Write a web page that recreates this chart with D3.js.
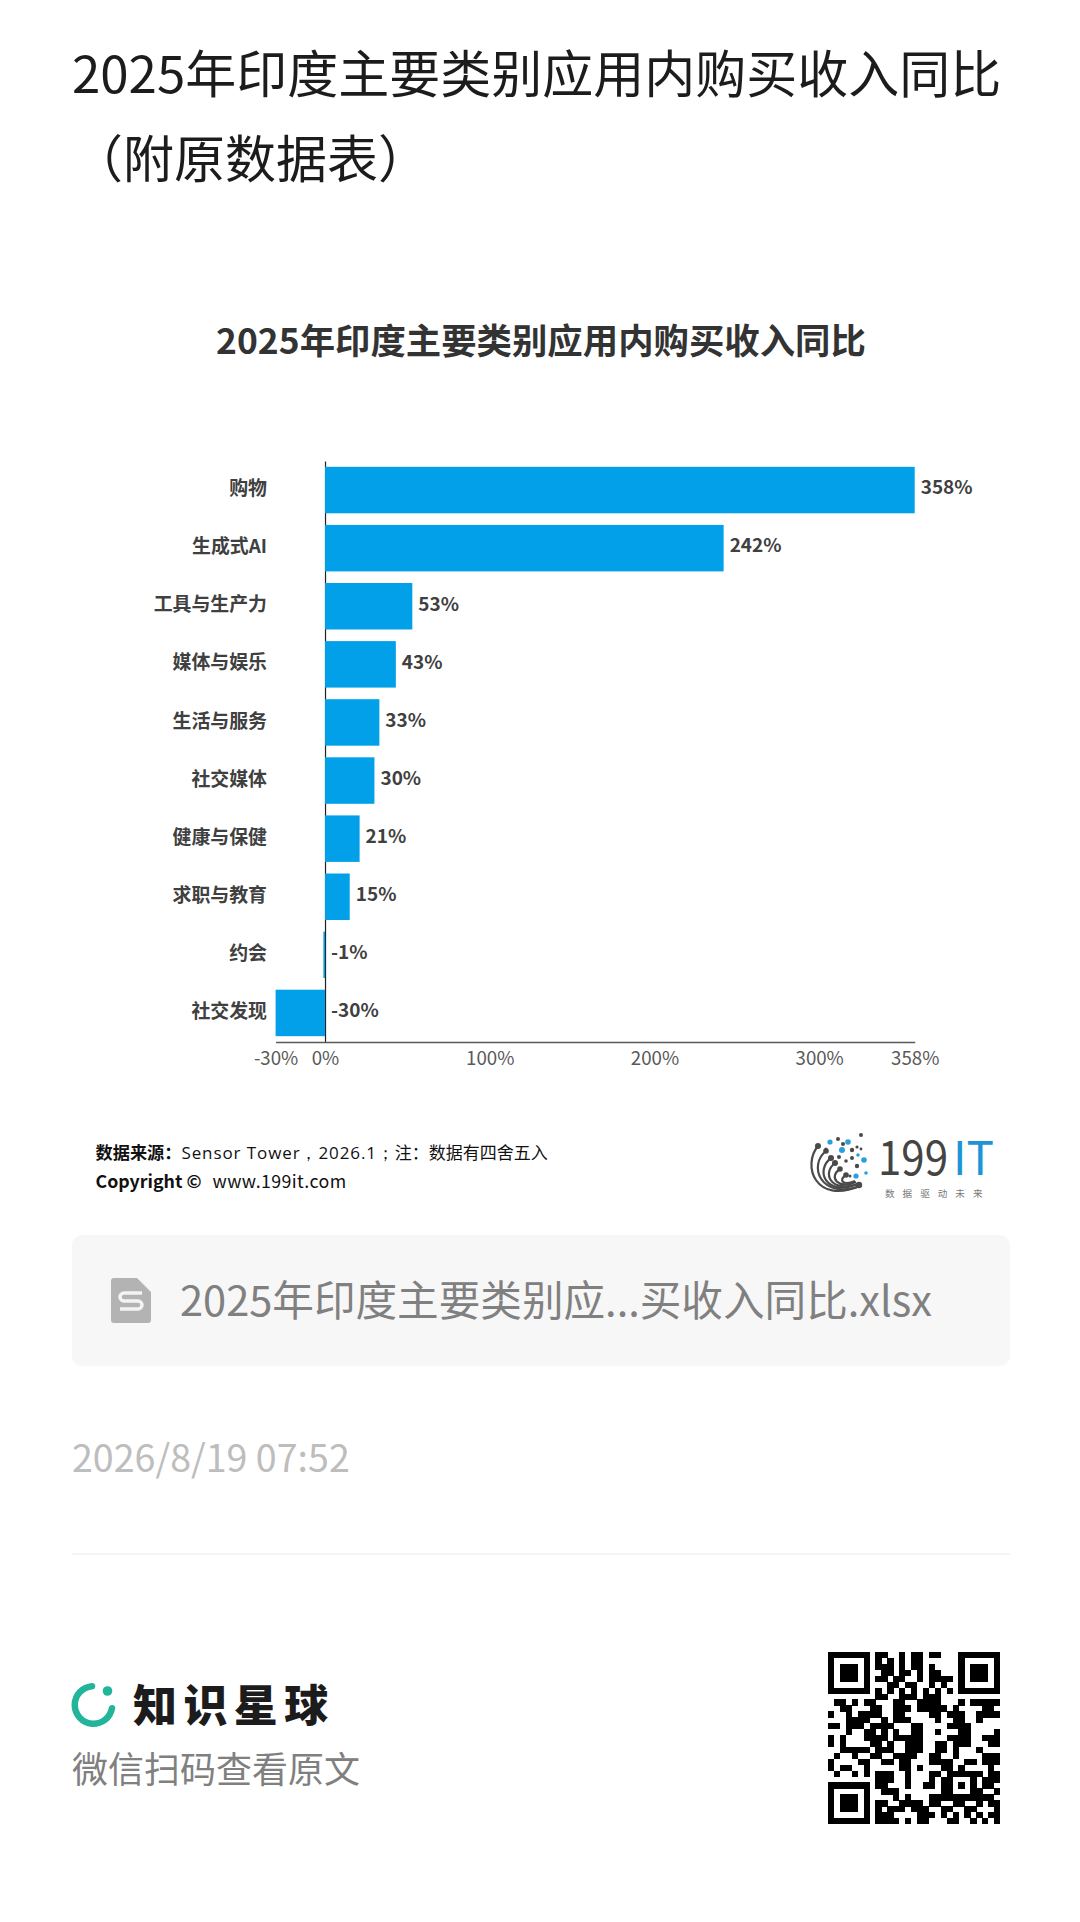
<!DOCTYPE html>
<html lang="zh"><head><meta charset="utf-8">
<script src="https://cdn.jsdelivr.net/npm/d3@7"></script>
<style>
html,body{margin:0;padding:0;background:#fff}
svg{display:block}
text{font-family:"Noto Sans CJK SC","Noto Sans",sans-serif}
</style></head><body><div id="chart"></div>
<script>
const pageTitleLines = ["2025年印度主要类别应用内购买收入同比", "（附原数据表）"];
const chartTitle = "2025年印度主要类别应用内购买收入同比";
const categories = ["购物","生成式AI","工具与生产力","媒体与娱乐","生活与服务","社交媒体","健康与保健","求职与教育","约会","社交发现"];
const growthPct = [358,242,53,43,33,30,21,15,-1,-30];
const tickValues = [-30,0,100,200,300,358];
const qrRows = [
"11111110110010110110001111111","10000010101010110000001000001","10111010111010110100001011101",
"10111010011011010110001011101","10111010110110010111101011101","10000010001101100101001000001",
"11111110101010101010101111111","00000000110011101110000000000","01101011000110011110001011111",
"00110001100111011111010000110","10010111100110000110111001111","00011110010111000010011001000",
"11011101111000110000111100000","00010011010100110010001100001","10100011110111110000111100111",
"10100001101001110011011100011","00111110111001110011010001000","01001001100111100110010000111",
"10000110011011000111100110111","10110010000011010001101000010","01001010111001000110111111011",
"00000000111001000101100010111","11111110110001001101101010110","10000010011100000001100011001",
"10111010000101000111111111110","10111010110011110110011001011","10111010101110111001100110001",
"10000010111000011101010101011","11111110111101011000110010101"];

const svg = d3.select("#chart").append("svg").attr("width",1080).attr("height",1922).attr("viewBox","0 0 1080 1922");
svg.append("rect").attr("width",1080).attr("height",1922).attr("fill","#fff");

// page title
svg.selectAll("text.pt").data(pageTitleLines).join("text").attr("class","pt")
  .attr("x",72).attr("y",(d,i)=>93+i*85).attr("font-size",51).attr("fill","#1c1c1c").text(d=>d);

// chart title
svg.append("text").attr("x",541).attr("y",354).attr("text-anchor","middle")
  .attr("font-size",35.4).attr("font-weight",700).attr("fill","#333").text(chartTitle);

// scales
const x = d3.scaleLinear().domain([d3.min(growthPct),d3.max(growthPct)]).range([275.6,914.7]);
const y = d3.scaleBand().domain(categories).range([461,1042]).paddingInner(0.2).paddingOuter(0.1);
const plot = svg.append("g");

// category axis
const yAxis = plot.append("g").attr("transform",`translate(${x(0)},0)`)
  .call(d3.axisLeft(y).tickSize(0).tickPadding(58));
yAxis.select(".domain").attr("stroke","#222").attr("stroke-width",1.2);
yAxis.selectAll("text").attr("font-size",18.9).attr("font-weight",700).attr("fill","#404040")
  .attr("font-family",'"Noto Sans CJK SC"').attr("dy","0.27em");

// bars
plot.selectAll("rect.bar").data(growthPct).join("rect").attr("class","bar")
  .attr("x",d=>x(Math.min(d,0))).attr("width",d=>Math.abs(x(d)-x(0)))
  .attr("y",(d,i)=>y(categories[i])).attr("height",y.bandwidth()).attr("fill","#02a0e8");

// value axis
const xAxis = plot.append("g").attr("transform","translate(0,1042)")
  .call(d3.axisBottom(x).tickValues(tickValues).tickSize(0).tickPadding(10).tickFormat(d=>d+"%"));
xAxis.select(".domain").attr("stroke","#595959").attr("stroke-width",1.6);
xAxis.selectAll("text").attr("font-size",18.7).attr("fill","#595959").attr("font-family",'"Open Sans"');

// value labels
plot.selectAll("text.val").data(growthPct).join("text").attr("class","val")
  .attr("x",d=>x(Math.max(d,0))+6).attr("y",(d,i)=>y(categories[i])+y.bandwidth()/2-2.5)
  .attr("dy","0.36em").attr("font-size",19).attr("font-weight",700)
  .attr("font-family",'"Open Sans"').attr("fill","#404040").text(d=>d+"%");

// source
const src = svg.append("text").attr("x",95.5).attr("y",1159).attr("font-size",17).attr("fill","#111");
src.append("tspan").attr("font-weight",700).attr("font-size",17.2).text("数据来源：");
src.append("tspan").attr("font-family",'"Open Sans"').attr("letter-spacing",0.9).text("Sensor Tower，2026.1；");
src.append("tspan").text("注：数据有四舍五入");
const cr = svg.append("text").attr("x",95.5).attr("y",1188).attr("font-size",17.8).attr("fill","#111").attr("font-family",'"Open Sans"');
cr.append("tspan").attr("font-weight",700).text("Copyright © ");
cr.append("tspan").attr("x",212.5).attr("letter-spacing",0.4).text("www.199it.com");

// 199IT logo
const logo = svg.append("g");
const fan = [[818,1146,802,1165,815,1205,860,1186],[826,1151,808,1165,820,1200,860,1186],[831,1158,815,1170,825,1197,858,1184],
  [835,1163,822,1173,830,1193,858,1184],[840,1169,828,1177,838,1190,856,1182],[846,1175,838,1180,843,1186,855,1181]];
logo.selectAll("path.fan").data(fan).join("path").attr("class","fan")
  .attr("d",d=>`M${d[0]},${d[1]}C${d[2]},${d[3]} ${d[4]},${d[5]} ${d[6]},${d[7]}`)
  .attr("fill","none").attr("stroke","#4a4a4a").attr("stroke-width",2.2);
const darkDots = [[818,1146,3],[826,1151,2.8],[831,1158,3],[835,1163,3],[840,1169,2.8],[846,1175,2.8],[859,1185,3.2],
  [838,1139,2],[826,1149,1.6],[843,1144,2],[852,1150,2.2],[857,1147,1.6],[861,1149,1.4],[861,1135,2],[839,1157,2],[846,1161,1.8],[852,1158,2],[857,1166,2.2],[850,1176,1.5]];
const blueDots = [[830,1142,2.6],[848,1142,2.8],[842,1150,3],[864,1160,2.8],[856,1176,2.6],[866,1173,1.8],[858,1155,1.8]];
logo.selectAll("circle.d").data(darkDots).join("circle").attr("class","d").attr("cx",d=>d[0]).attr("cy",d=>d[1]).attr("r",d=>d[2]).attr("fill","#4a4a4a");
logo.selectAll("circle.b").data(blueDots).join("circle").attr("class","b").attr("cx",d=>d[0]).attr("cy",d=>d[1]).attr("r",d=>d[2]).attr("fill","#2a9fdc");
const brandText = logo.append("text").attr("y",1175).attr("font-family",'"Liberation Serif"').attr("font-size",47);
brandText.append("tspan").attr("x",878).attr("textLength",70).attr("lengthAdjust","spacingAndGlyphs").attr("fill","#444").text("199");
brandText.append("tspan").attr("x",953).attr("textLength",41).attr("lengthAdjust","spacingAndGlyphs").attr("fill","#1d94d6").text("IT");
logo.append("text").attr("x",885).attr("y",1196.5).attr("font-size",9.6).attr("letter-spacing",8).attr("fill","#7a7a7a").text("数据驱动未来");

// attachment card
svg.append("rect").attr("x",72).attr("y",1235).attr("width",938).attr("height",131).attr("rx",10).attr("fill","#f7f7f7");
svg.append("path").attr("d","M114,1278H137L151,1292V1320a3,3 0 0 1 -3,3H114a3,3 0 0 1 -3,-3V1281a3,3 0 0 1 3,-3Z").attr("fill","#b3b3b3");
svg.append("path").attr("d","M142,1293H124a3,3 0 0 0 0,8H138a3,3 0 0 1 0,8H120").attr("fill","none").attr("stroke","#f4f4f4").attr("stroke-width",3.4);
svg.append("text").attr("x",180).attr("y",1316).attr("font-size",41.6).attr("fill","#808080").text("2025年印度主要类别应...买收入同比.xlsx");

// date and rule
svg.append("text").attr("x",72).attr("y",1472).attr("font-size",37.6).attr("fill","#bdbdbd").text("2026/8/19 07:52");
svg.append("line").attr("x1",72).attr("x2",1010).attr("y1",1554).attr("y2",1554).attr("stroke","#f0f0f0").attr("stroke-width",1.5);

// brand
const arc = d3.arc().innerRadius(15.5).outerRadius(22).cornerRadius(3).startAngle(Math.PI*0.5).endAngle(Math.PI*2.03);
svg.append("path").attr("transform","translate(93.5,1705)").attr("d",arc()).attr("fill","#22b59a");
svg.append("circle").attr("cx",107.5).attr("cy",1691).attr("r",4.8).attr("fill","#22b59a");
svg.append("text").attr("x",133).attr("y",1722).attr("font-size",44).attr("font-weight",900).attr("letter-spacing",6.4).attr("fill","#1c1c1c").text("知识星球");
svg.append("text").attr("x",72).attr("y",1783).attr("font-size",36).attr("fill","#808080").text("微信扫码查看原文");

// QR code
const qrCols = d3.range(29);
const qx = d3.scaleBand().domain(qrCols).range([828,1000]);
const qy = d3.scaleBand().domain(d3.range(qrRows.length)).range([1652,1824]);
const qr = svg.append("g").attr("shape-rendering","crispEdges");
qrRows.forEach((row,r)=>{
  qr.selectAll(null).data(qrCols.filter(c=>row[c]==="1")).join("rect")
    .attr("x",c=>qx(c)).attr("y",qy(r)).attr("width",qx.bandwidth()+.3).attr("height",qy.bandwidth()+.3).attr("fill","#000");
});
</script></body></html>
